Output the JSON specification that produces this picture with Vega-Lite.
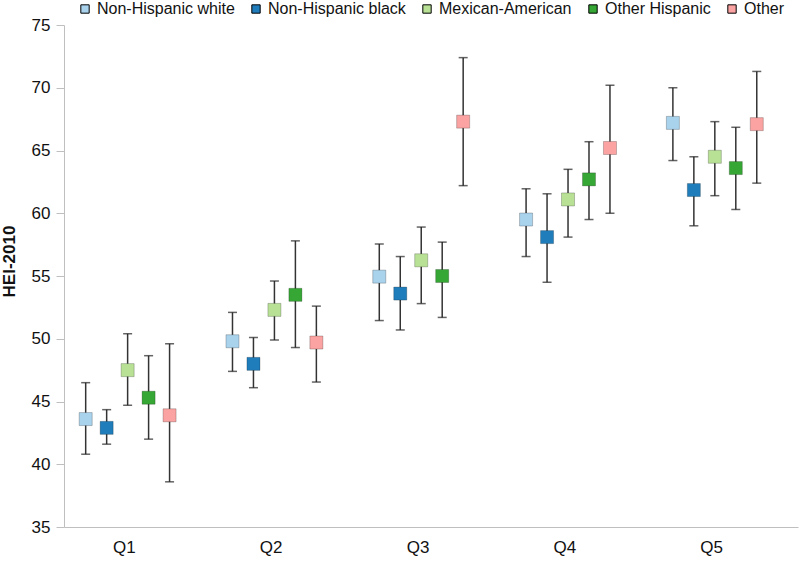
{
  "$schema": "https://vega.github.io/schema/vega-lite/v6.json",
  "width": 734,
  "height": 502,
  "autosize": {"type": "none"},
  "padding": {"left": 64, "top": 25, "right": 2, "bottom": 37},
  "config": {
    "font": "Liberation Sans",
    "view": {"stroke": null},
    "legend": {
      "labelFontSize": 16, "labelColor": "#111", "symbolSize": 70,
      "labelOffset": 4, "columnPadding": 13, "symbolStrokeWidth": 1
    }
  },
  "datasets": {
    "hei": [
      {"quintile": "Q1", "group": "Non-Hispanic white", "mean": 43.6, "lo": 40.8, "hi": 46.5},
      {"quintile": "Q1", "group": "Non-Hispanic black", "mean": 42.9, "lo": 41.6, "hi": 44.35},
      {"quintile": "Q1", "group": "Mexican-American", "mean": 47.5, "lo": 44.7, "hi": 50.4},
      {"quintile": "Q1", "group": "Other Hispanic", "mean": 45.3, "lo": 42.0, "hi": 48.65},
      {"quintile": "Q1", "group": "Other", "mean": 43.9, "lo": 38.6, "hi": 49.6},
      {"quintile": "Q2", "group": "Non-Hispanic white", "mean": 49.8, "lo": 47.4, "hi": 52.1},
      {"quintile": "Q2", "group": "Non-Hispanic black", "mean": 48.0, "lo": 46.1, "hi": 50.1},
      {"quintile": "Q2", "group": "Mexican-American", "mean": 52.3, "lo": 49.9, "hi": 54.6},
      {"quintile": "Q2", "group": "Other Hispanic", "mean": 53.5, "lo": 49.3, "hi": 57.8},
      {"quintile": "Q2", "group": "Other", "mean": 49.7, "lo": 46.55, "hi": 52.6},
      {"quintile": "Q3", "group": "Non-Hispanic white", "mean": 54.95, "lo": 51.45, "hi": 57.55},
      {"quintile": "Q3", "group": "Non-Hispanic black", "mean": 53.6, "lo": 50.7, "hi": 56.55},
      {"quintile": "Q3", "group": "Mexican-American", "mean": 56.25, "lo": 52.8, "hi": 58.9},
      {"quintile": "Q3", "group": "Other Hispanic", "mean": 55.0, "lo": 51.7, "hi": 57.7},
      {"quintile": "Q3", "group": "Other", "mean": 67.3, "lo": 62.2, "hi": 72.4},
      {"quintile": "Q4", "group": "Non-Hispanic white", "mean": 59.5, "lo": 56.55, "hi": 61.95},
      {"quintile": "Q4", "group": "Non-Hispanic black", "mean": 58.1, "lo": 54.5, "hi": 61.55},
      {"quintile": "Q4", "group": "Mexican-American", "mean": 61.1, "lo": 58.1, "hi": 63.5},
      {"quintile": "Q4", "group": "Other Hispanic", "mean": 62.7, "lo": 59.5, "hi": 65.7},
      {"quintile": "Q4", "group": "Other", "mean": 65.2, "lo": 60.0, "hi": 70.2},
      {"quintile": "Q5", "group": "Non-Hispanic white", "mean": 67.2, "lo": 64.2, "hi": 70.0},
      {"quintile": "Q5", "group": "Non-Hispanic black", "mean": 61.85, "lo": 59.0, "hi": 64.5},
      {"quintile": "Q5", "group": "Mexican-American", "mean": 64.5, "lo": 61.4, "hi": 67.3},
      {"quintile": "Q5", "group": "Other Hispanic", "mean": 63.6, "lo": 60.3, "hi": 66.85},
      {"quintile": "Q5", "group": "Other", "mean": 67.1, "lo": 62.4, "hi": 71.3}
    ]
  },
  "data": {"name": "hei"},
  "encoding": {
    "x": {
      "field": "quintile", "type": "nominal", "title": null,
      "scale": {"paddingInner": 0, "paddingOuter": 0},
      "axis": {
        "domainColor": "#bfbfbf", "ticks": false, "labelFontSize": 17,
        "labelPadding": 12, "labelAngle": 0, "labelColor": "#111", "labelOffset": -13
      }
    },
    "xOffset": {
      "field": "group", "type": "nominal",
      "sort": ["Non-Hispanic white", "Non-Hispanic black", "Mexican-American", "Other Hispanic", "Other"],
      "scale": {
        "domain": ["Non-Hispanic white", "Non-Hispanic black", "Mexican-American", "Other Hispanic", "Other"],
        "paddingInner": 0, "paddingOuter": 1, "align": 0.267
      }
    },
    "y": {
      "field": "mean", "type": "quantitative", "title": "HEI-2010",
      "scale": {"domain": [35, 75], "nice": false, "zero": false},
      "axis": {
        "domainColor": "#bfbfbf", "tickColor": "#bfbfbf", "tickSize": 8,
        "labelFontSize": 17, "labelPadding": 6, "labelColor": "#111",
        "titleFontSize": 17, "titleFontWeight": "bold", "titleColor": "#111",
        "titleX": -55, "titleY": 236, "titleBaseline": "middle",
        "grid": false, "values": [35, 40, 45, 50, 55, 60, 65, 70, 75]
      }
    }
  },
  "layer": [
    {
      "mark": {"type": "rule", "color": "#333333", "strokeWidth": 1.5},
      "encoding": {
        "y": {"field": "lo", "type": "quantitative", "title": "HEI-2010"},
        "y2": {"field": "hi"}
      }
    },
    {
      "mark": {"type": "tick", "color": "#222222", "size": 9, "thickness": 1.5},
      "encoding": {"y": {"field": "lo", "type": "quantitative", "title": "HEI-2010"}}
    },
    {
      "mark": {"type": "tick", "color": "#222222", "size": 9, "thickness": 1.5},
      "encoding": {"y": {"field": "hi", "type": "quantitative", "title": "HEI-2010"}}
    },
    {
      "mark": {"type": "square", "size": 170, "filled": true, "opacity": 1, "stroke": "#000000", "strokeOpacity": 0.22, "strokeWidth": 1},
      "encoding": {
        "color": {
          "field": "group", "type": "nominal", "title": null,
          "sort": ["Non-Hispanic white", "Non-Hispanic black", "Mexican-American", "Other Hispanic", "Other"],
          "scale": {
            "domain": ["Non-Hispanic white", "Non-Hispanic black", "Mexican-American", "Other Hispanic", "Other"],
            "range": ["#a9d2ec", "#1f7dbb", "#b8e196", "#36a735", "#fba3a2"]
          },
          "legend": {"orient": "none", "legendX": 13, "legendY": -24, "direction": "horizontal"}
        }
      }
    }
  ]
}
